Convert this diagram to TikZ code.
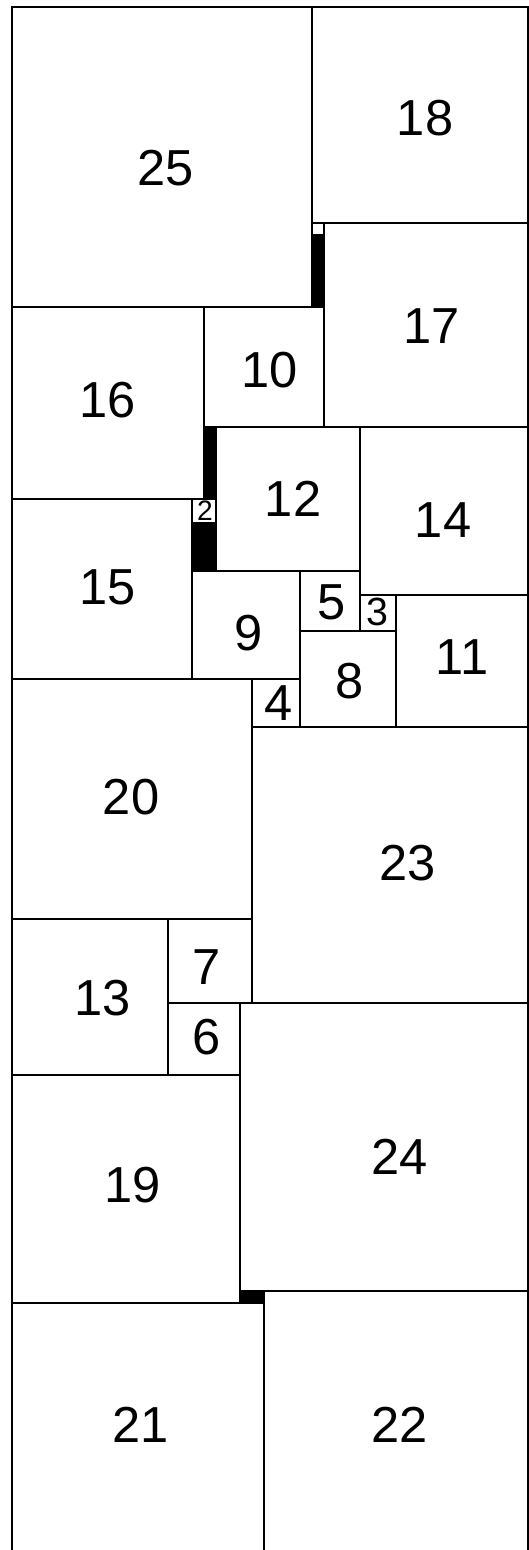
\documentclass[tikz,border=0pt]{standalone}
\usepackage{fontspec}
\setmainfont{Liberation Sans}
\begin{document}
\begin{tikzpicture}[x=0.3cm,y=-0.3cm,
  sq/.style={draw=black,line width=0.05cm},
  blk/.style={fill=black},
  lbl/.style={inner sep=0pt,font=\fontsize{36}{36}\selectfont},
  lblm/.style={inner sep=0pt,font=\fontsize{28}{28}\selectfont},
  lbls/.style={inner sep=0pt,font=\fontsize{20}{20}\selectfont}]
\useasboundingbox (-1,-0.583) rectangle (43.083,128.583);
\clip (-1,-0.583) rectangle (43.083,128.583);
% black gaps
\fill[blk] (25,19) rectangle (26,25);
\fill[blk] (16,35) rectangle (17,41);
\fill[blk] (15,43) rectangle (17,47);
\fill[blk] (19,107) rectangle (21,108);
% outer border
\draw[sq] (0,0) rectangle (43,129);
% squares
\draw[sq] (0,0) rectangle ++(25,25);
\draw[sq] (25,0) rectangle ++(18,18);
\draw[sq] (25,18) rectangle ++(1,1);
\draw[sq] (26,18) rectangle ++(17,17);
\draw[sq] (0,25) rectangle ++(16,16);
\draw[sq] (16,25) rectangle ++(10,10);
\draw[sq] (17,35) rectangle ++(12,12);
\draw[sq] (29,35) rectangle ++(14,14);
\draw[sq] (0,41) rectangle ++(15,15);
\draw[sq] (15,41) rectangle ++(2,2);
\draw[sq] (15,47) rectangle ++(9,9);
\draw[sq] (24,47) rectangle ++(5,5);
\draw[sq] (29,49) rectangle ++(3,3);
\draw[sq] (32,49) rectangle ++(11,11);
\draw[sq] (24,52) rectangle ++(8,8);
\draw[sq] (20,56) rectangle ++(4,4);
\draw[sq] (0,56) rectangle ++(20,20);
\draw[sq] (20,60) rectangle ++(23,23);
\draw[sq] (0,76) rectangle ++(13,13);
\draw[sq] (13,76) rectangle ++(7,7);
\draw[sq] (13,83) rectangle ++(6,6);
\draw[sq] (19,83) rectangle ++(24,24);
\draw[sq] (0,89) rectangle ++(19,19);
\draw[sq] (0,108) rectangle ++(21,21);
\draw[sq] (21,107) rectangle ++(22,22);
% labels
\node[lbl] (n25) at (12.83,13.42) {25};
\node[lbl] (n18) at (34.42,9.25) {18};
\node[lbl] (n17) at (35,26.58) {17};
\node[lbl] (n10) at (21.5,30.25) {10};
\node[lbl] (n16) at (8,32.75) {16};
\node[lbl] (n12) at (23.42,41) {12};
\node[lbl] (n14) at (35.92,42.75) {14};
\node[lbls] (n2) at (16.08,41.95) {2};
\node[lbl] (n15) at (8,48.33) {15};
\node[lbl] (n5) at (26.67,49.58) {5};
\node[lblm] (n3) at (30.42,50.42) {3};
\node[lbl] (n9) at (19.75,52.17) {9};
\node[lbl] (n11) at (37.5,54.17) {11};
\node[lbl] (n8) at (28.17,56.17) {8};
\node[lbl] (n4) at (22.25,58) {4};
\node[lbl] (n20) at (9.92,65.83) {20};
\node[lbl] (n23) at (33,71.33) {23};
\node[lbl] (n7) at (16.25,80) {7};
\node[lbl] (n6) at (16.25,85.83) {6};
\node[lbl] (n13) at (7.58,82.58) {13};
\node[lbl] (n24) at (32.33,95.83) {24};
\node[lbl] (n19) at (10.08,98.17) {19};
\node[lbl] (n21) at (10.75,118.17) {21};
\node[lbl] (n22) at (32.33,118.17) {22};
\end{tikzpicture}
\end{document}
